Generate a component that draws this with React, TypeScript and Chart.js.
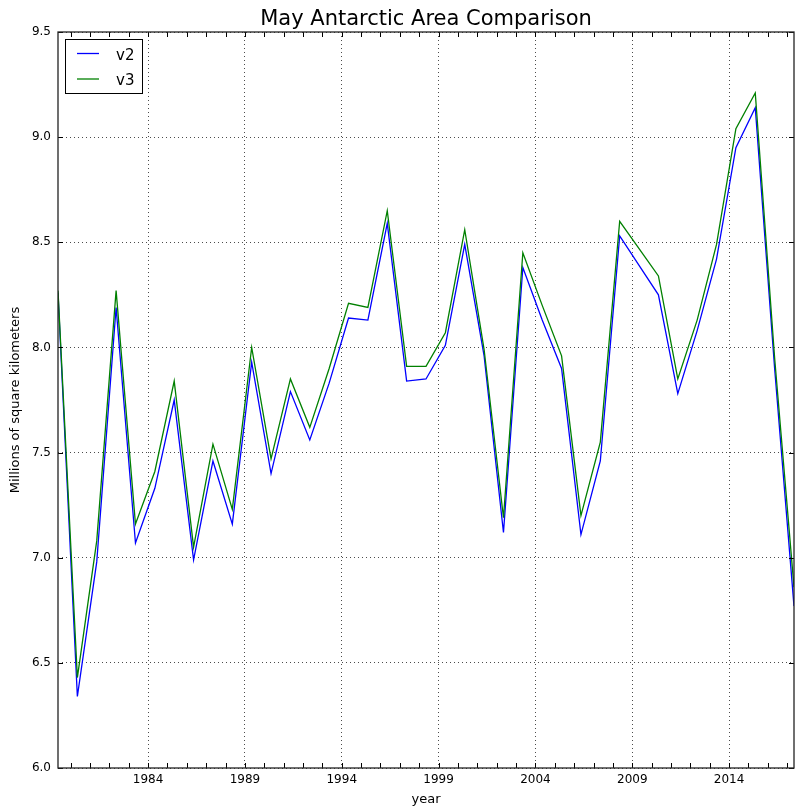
import React, { useEffect, useRef } from "react";
import { Chart, registerables } from "chart.js";

Chart.register(...registerables);

// ---- Data ----
const years = [
  1979, 1980, 1981, 1982, 1983, 1984, 1985, 1986, 1987, 1988,
  1989, 1990, 1991, 1992, 1993, 1994, 1995, 1996, 1997, 1998,
  1999, 2000, 2001, 2002, 2003, 2004, 2005, 2006, 2007, 2008,
  2009, 2010, 2011, 2012, 2013, 2014, 2015, 2016, 2017,
];
const v2 = [
  8.26, 6.34, 6.98, 8.19, 7.07, 7.33, 7.75, 6.99, 7.46, 7.16,
  7.93, 7.40, 7.79, 7.56, 7.83, 8.14, 8.13, 8.59, 7.84, 7.85,
  8.01, 8.49, 7.96, 7.12, 8.38, 8.13, 7.90, 7.11, 7.46, 8.53,
  8.39, 8.25, 7.78, 8.08, 8.42, 8.95, 9.14, 7.90, 6.77,
];
const v3 = [
  8.27, 6.43, 7.08, 8.27, 7.16, 7.41, 7.84, 7.05, 7.54, 7.23,
  8.00, 7.47, 7.85, 7.62, 7.90, 8.21, 8.19, 8.65, 7.91, 7.91,
  8.07, 8.56, 7.99, 7.19, 8.45, 8.20, 7.96, 7.20, 7.55, 8.60,
  8.47, 8.34, 7.85, 8.13, 8.49, 9.04, 9.21, 7.95, 6.86,
];
const MAY_OFFSET = 0.35; // fractional-year position of May
const xTickYears = [1984, 1989, 1994, 1999, 2004, 2009, 2014];
const yTickValues = [6.0, 6.5, 7.0, 7.5, 8.0, 8.5, 9.0, 9.5];
const seriesNames = ["v2", "v3"];
const seriesColors = ["#0000ff", "#008000"];
const titleText = "May Antarctic Area Comparison";
const xLabel = "year";
const yLabel = "Millions of square kilometers";

const FONT = '"DejaVu Sans", "Liberation Sans", sans-serif';

const decorPlugin = {
  id: "decor",
  afterDatasetsDraw(chart: any) {
    const { ctx, chartArea } = chart;
    const { left, right, top, bottom } = chartArea;
    const xs = chart.scales.x;
    const ys = chart.scales.y;
    ctx.save();
    // inward ticks
    ctx.strokeStyle = "#000";
    ctx.lineWidth = 1;
    ctx.beginPath();
    const yrMin = Math.ceil(xs.min);
    const yrMax = Math.floor(xs.max);
    for (let yr = yrMin; yr <= yrMax; yr++) {
      const px = Math.round(xs.getPixelForValue(yr)) + 0.5;
      ctx.moveTo(px, bottom);
      ctx.lineTo(px, bottom - 5);
      ctx.moveTo(px, top);
      ctx.lineTo(px, top + 5);
    }
    for (const v of yTickValues) {
      const py = Math.round(ys.getPixelForValue(v)) + 0.5;
      ctx.moveTo(left, py);
      ctx.lineTo(left + 5, py);
      ctx.moveTo(right, py);
      ctx.lineTo(right - 5, py);
    }
    ctx.stroke();
    // frame
    ctx.lineWidth = 1.3;
    ctx.strokeStyle = "#222";
    ctx.strokeRect(left, top, right - left, bottom - top);

    // title
    ctx.fillStyle = "#000";
    ctx.font = `21px ${FONT}`;
    ctx.textAlign = "center";
    ctx.textBaseline = "alphabetic";
    ctx.fillText(titleText, (left + right) / 2, 25);

    // legend
    const lx = 65.5, ly = 39.5, lw = 77, lh = 54;
    ctx.fillStyle = "#fff";
    ctx.fillRect(lx, ly, lw, lh);
    ctx.strokeStyle = "#000";
    ctx.lineWidth = 1;
    ctx.strokeRect(lx, ly, lw, lh);
    ctx.font = `15px ${FONT}`;
    ctx.textAlign = "left";
    seriesNames.forEach((name, i) => {
      const yy = 53.5 + i * 25.5;
      ctx.strokeStyle = seriesColors[i];
      ctx.lineWidth = 1.3;
      ctx.beginPath();
      ctx.moveTo(77, yy);
      ctx.lineTo(99, yy);
      ctx.stroke();
      ctx.fillStyle = "#000";
      ctx.fillText(name, 116, yy + 6);
    });
    ctx.restore();
  },
};

export default function App() {
  const canvasRef = useRef<HTMLCanvasElement | null>(null);

  useEffect(() => {
    const canvas = canvasRef.current;
    if (!canvas) return;
    const toPoints = (vals: number[]) =>
      years.map((yr, i) => ({ x: yr + MAY_OFFSET, y: vals[i] }));
    const chart = new Chart(canvas, {
      type: "line",
      data: {
        datasets: [
          {
            label: seriesNames[0],
            data: toPoints(v2),
            borderColor: seriesColors[0],
            backgroundColor: seriesColors[0],
            borderWidth: 1.3,
            pointRadius: 0,
            tension: 0,
            fill: false,
            order: 2,
          },
          {
            label: seriesNames[1],
            data: toPoints(v3),
            borderColor: seriesColors[1],
            backgroundColor: seriesColors[1],
            borderWidth: 1.3,
            pointRadius: 0,
            tension: 0,
            fill: false,
            order: 1,
          },
        ],
      },
      options: {
        animation: false,
        responsive: false,
        maintainAspectRatio: false,
        layout: { padding: { left: 0, right: 5, top: 32, bottom: 0 } },
        plugins: {
          legend: { display: false },
          title: { display: false },
          tooltip: { enabled: false },
        },
        scales: {
          x: {
            type: "linear",
            min: years[0] + MAY_OFFSET,
            max: years[years.length - 1] + MAY_OFFSET,
            afterBuildTicks: (s: any) => {
              s.ticks = xTickYears.map((v) => ({ value: v }));
            },
            afterFit: (s: any) => {
              s.height = 44;
            },
            ticks: {
              autoSkip: false,
              maxRotation: 0,
              padding: 5,
              color: "#000",
              font: { family: FONT, size: 12 },
              callback: (v: any) => String(v),
            },
            grid: {
              color: "rgba(0,0,0,0.7)",
              lineWidth: 1,
              drawTicks: false,
            },
            border: { display: false, dash: [1, 3] },
            title: {
              display: true,
              text: xLabel,
              color: "#000",
              font: { family: FONT, size: 13 },
              padding: { top: 0, bottom: 5 },
            },
          },
          y: {
            type: "linear",
            min: 6,
            max: 9.5,
            afterBuildTicks: (s: any) => {
              s.ticks = yTickValues.map((v) => ({ value: v }));
            },
            afterFit: (s: any) => {
              s.width = 58;
            },
            ticks: {
              padding: 7,
              color: "#000",
              font: { family: FONT, size: 12 },
              callback: (v: any) => Number(v).toFixed(1),
            },
            grid: {
              color: "rgba(0,0,0,0.7)",
              lineWidth: 1,
              drawTicks: false,
            },
            border: { display: false, dash: [1, 3] },
            title: {
              display: true,
              text: yLabel,
              color: "#000",
              font: { family: FONT, size: 13 },
              padding: { top: 8, bottom: 0 },
            },
          },
        },
      },
      plugins: [decorPlugin],
    });
    return () => chart.destroy();
  }, []);

  return (
    <div
      style={{
        position: "absolute",
        left: 0,
        top: 0,
        width: 799,
        height: 812,
        background: "#fff",
      }}
    >
      <canvas ref={canvasRef} width={799} height={812} />
    </div>
  );
}
